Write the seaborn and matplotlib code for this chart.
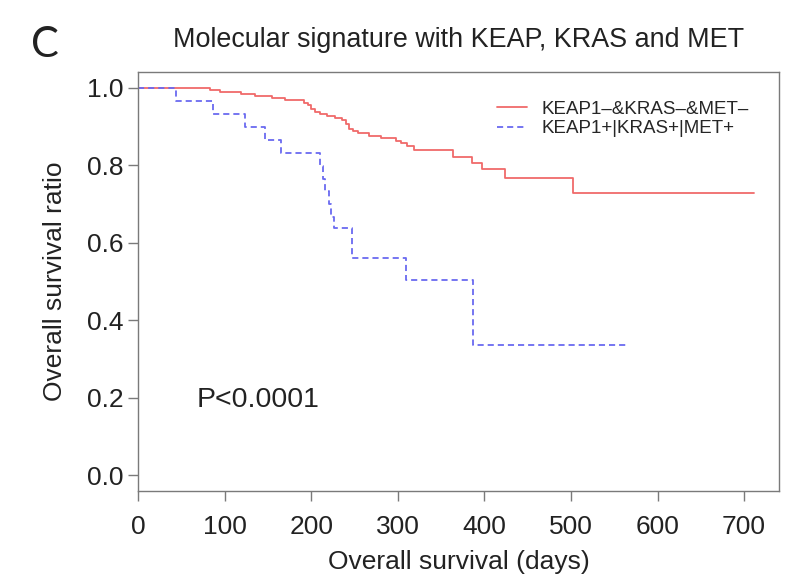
import matplotlib
matplotlib.use('Agg')
import matplotlib.pyplot as plt
import seaborn as sns
import pandas as pd

# 생존곡선 데이터 (계단 시작점: 일수, 생존비율)
neg_days = [0, 83, 94, 119, 135, 154, 170, 191, 196, 200, 204, 210, 218, 227,
            235, 240, 243, 248, 254, 266, 281, 298, 304, 310, 318, 364, 385,
            397, 424, 502, 711]
neg_surv = [1.0, 0.994, 0.989, 0.984, 0.979, 0.973, 0.967, 0.961, 0.954,
            0.945, 0.938, 0.932, 0.926, 0.922, 0.917, 0.905, 0.893, 0.888,
            0.883, 0.876, 0.871, 0.863, 0.857, 0.849, 0.840, 0.820, 0.805,
            0.790, 0.766, 0.729, 0.729]

pos_days = [0, 43, 86, 123, 146.5, 164.5, 209.5, 213, 216, 220, 223, 226,
            247, 309, 387, 565]
pos_surv = [1.0, 0.966, 0.932, 0.898, 0.865, 0.832, 0.798, 0.765, 0.732,
            0.699, 0.666, 0.638, 0.560, 0.504, 0.337, 0.337]

groups = ['KEAP1–&KRAS–&MET–', 'KEAP1+|KRAS+|MET+']
xticks = [0, 100, 200, 300, 400, 500, 600, 700]
yticks = [0.0, 0.2, 0.4, 0.6, 0.8, 1.0]

df = pd.DataFrame({
    'days': neg_days + pos_days,
    'surv': neg_surv + pos_surv,
    'group': [groups[0]] * len(neg_days) + [groups[1]] * len(pos_days),
})

sns.set_theme(style='ticks')
plt.rcParams['font.family'] = ['Liberation Sans', 'DejaVu Sans']
text_col = '#222222'
axis_col = '#7a7a7a'

fig = plt.figure(figsize=(8, 5.82), dpi=100)
ax = fig.add_axes([0.1729, 0.1569, 0.8005, 0.7194])

palette = {groups[0]: '#f06a6a', groups[1]: '#6a6af0'}
dashes = {groups[0]: '', groups[1]: (3.4, 2.2)}
sns.lineplot(data=df, x='days', y='surv', hue='group', style='group',
             palette=palette, dashes=dashes, hue_order=groups,
             estimator=None, drawstyle='steps-post', linewidth=1.3,
             legend=False, ax=ax)

ax.set_xlim(0, 740)
ax.set_ylim(-0.04, 1.04)
ax.set_xticks(xticks)
ax.set_yticks(yticks)
ax.set_yticklabels([f'{v:.1f}' for v in yticks])

for side in ['left', 'bottom', 'top', 'right']:
    ax.spines[side].set_color(axis_col)
    ax.spines[side].set_linewidth(1.0)
ax.tick_params(axis='both', length=7.2, width=1.0, color=axis_col,
               labelsize=19, labelcolor=text_col)
ax.tick_params(axis='x', pad=10)
ax.tick_params(axis='y', pad=3.6)

ax.set_xlabel('Overall survival (days)', fontsize=19, color=text_col, labelpad=8)
ax.set_ylabel('Overall survival ratio', fontsize=19, color=text_col, labelpad=14)
ax.set_title('Molecular signature with KEAP, KRAS and MET', fontsize=19.4,
             color=text_col, pad=18)

ax.text(67.5, 0.176, 'P<0.0001', fontsize=20.5, color=text_col, va='baseline')

handles = ax.get_lines()[:2]
ax.legend(handles, groups, loc='center left', frameon=False, fontsize=13.5,
          handlelength=1.6, handletextpad=0.8, labelspacing=0.12,
          borderpad=0, borderaxespad=0,
          bbox_to_anchor=(496.7 / 800, 1 - 119 / 582),
          bbox_transform=fig.transFigure)

fig.text(31 / 800, 1 - 57 / 582, 'C', fontsize=30, color=text_col,
         family=['Lato', 'DejaVu Sans'], va='baseline')

fig.savefig('out.png', dpi=100)
